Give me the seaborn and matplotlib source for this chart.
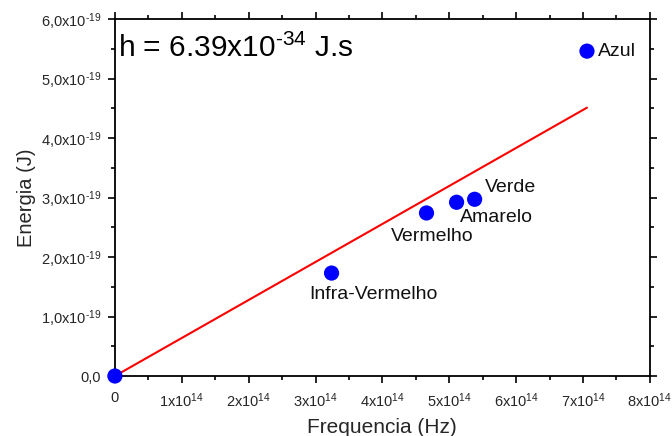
import matplotlib
matplotlib.use("Agg")
import matplotlib.pyplot as plt
import seaborn as sns
import pandas as pd
from matplotlib.ticker import MultipleLocator, FixedLocator

# Data
names = ["", "Infra-Vermelho", "Vermelho", "Amarelo", "Verde", "Azul"]
freq = [0.0, 3.24e14, 4.66e14, 5.11e14, 5.38e14, 7.06e14]
energy = [0.0, 1.73e-19, 2.74e-19, 2.92e-19, 2.97e-19, 5.46e-19]
fit_x = [0.0, 7.06e14]
fit_y = [0.0, 4.51e-19]
label_offsets = [(0, 0), (-22, -21), (-36, -24), (3, -15), (10, 12), (11, 0)]
x_ticks = [i * 1e14 for i in range(9)]
x_tick_labels = ["0"] + [r"%dx10$^{\mathregular{14}}$" % i for i in range(1, 9)]
y_ticks = [i * 1e-19 for i in range(7)]
y_tick_labels = ["0,0"] + ["%d,0x10$^{\u2010\\mathregular{19}}$" % i for i in range(1, 7)]

sns.set_style("ticks")
plt.rcParams["font.family"] = ["Liberation Sans", "DejaVu Sans"]
plt.rcParams["mathtext.fontset"] = "custom"
plt.rcParams["mathtext.rm"] = "Liberation Sans"
plt.rcParams["mathtext.it"] = "Liberation Sans"
plt.rcParams["mathtext.default"] = "regular"
plt.rcParams["axes.unicode_minus"] = False

df = pd.DataFrame({"freq": freq, "energy": energy, "name": names})

fig = plt.figure(figsize=(6.72, 4.36), dpi=100)
ax = fig.add_axes([0.171, 0.1376, 0.796, 0.8188])

ax.plot(fit_x, fit_y, color="#ff0000", lw=1.5, zorder=2)
sns.scatterplot(data=df, x="freq", y="energy", ax=ax, color="#0000ff",
                s=120, edgecolor="none", zorder=3, clip_on=False)

for n, x, y, (dx, dy) in zip(names, freq, energy, label_offsets):
    if n:
        ax.annotate(n, (x, y), xytext=(dx, dy), textcoords="offset pixels",
                    fontsize=14, ha="left", va="center", color="#111111")

ax.text(0.006, 0.918, "h = 6.39x10$^{\u2010\\mathregular{34}}$ J.s", transform=ax.transAxes,
        fontsize=21.5, ha="left", va="center", color="black")

ax.set_xlim(0, 8e14)
ax.set_ylim(0, 6e-19)
ax.xaxis.set_major_locator(FixedLocator(x_ticks))
ax.set_xticklabels(x_tick_labels)
ax.yaxis.set_major_locator(FixedLocator(y_ticks))
ax.set_yticklabels(y_tick_labels)
ax.xaxis.set_minor_locator(MultipleLocator(0.5e14))
ax.yaxis.set_minor_locator(MultipleLocator(0.5e-19))

for s in ax.spines.values():
    s.set_visible(True)
    s.set_linewidth(1.3)
    s.set_color("black")

ax.tick_params(which="both", direction="out", top=True, right=True,
               labeltop=False, labelright=False, color="black", width=1.2)
ax.tick_params(which="major", length=5, labelsize=10.5)
ax.tick_params(axis="x", which="major", pad=6)
ax.tick_params(axis="y", which="major", pad=5)
ax.tick_params(which="minor", length=3)

ax.set_xlabel("Frequencia (Hz)", fontsize=15, labelpad=6)
ax.set_ylabel("Energia (J)", fontsize=14.5, labelpad=3)

fig.savefig("out.png", dpi=100)
